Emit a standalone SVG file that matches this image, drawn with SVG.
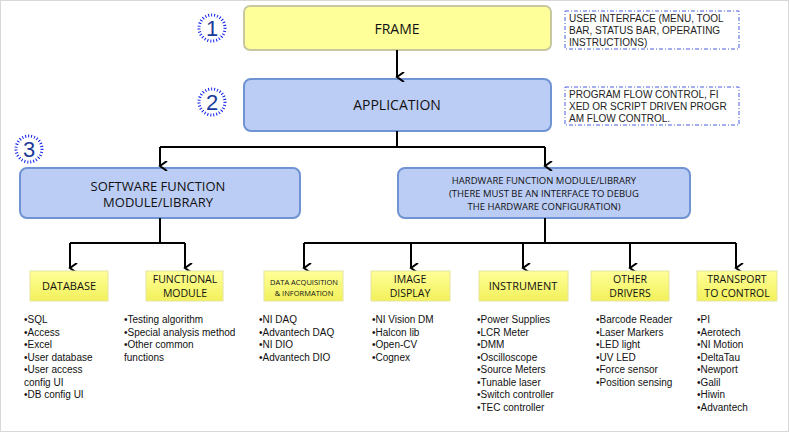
<svg xmlns="http://www.w3.org/2000/svg" width="789" height="432" viewBox="0 0 789 432">
<defs>
<marker id="ah" markerWidth="10" markerHeight="10" refX="5" refY="8" orient="auto" markerUnits="userSpaceOnUse" viewBox="0 0 10 10"><path d="M0,1 L5,8 L10,1" fill="none" stroke="#000" stroke-width="2"/></marker>
<linearGradient id="yg" x1="0" y1="0" x2="0" y2="1"><stop offset="0" stop-color="#ffff99"/><stop offset="1" stop-color="#f2f05a"/></linearGradient>
</defs>
<style>
.big{fill:#ffff99;stroke:#c8c8a0;stroke-width:2}
.blue{fill:#bccdf5;stroke:#6f93d3;stroke-width:2}
.ylw{fill:url(#yg);stroke:#e6e4a0;stroke-width:1}
.note{fill:#fff;stroke:#4a5ee0;stroke-width:1;stroke-dasharray:4,2,1,2}
.circ{fill:#fff;stroke:#1020f0;stroke-width:3;stroke-dasharray:1,2}
.t{font-family:"Open Sans","DejaVu Sans",sans-serif;fill:#111;text-anchor:middle}
.n{font-family:"Liberation Sans",Arial,sans-serif;fill:#222;font-size:10px}
.l{font-family:"Liberation Sans",Arial,sans-serif;fill:#111;font-size:10px}
.num{font-family:"Liberation Sans",Arial,sans-serif;fill:#1a3a9a;font-size:22px;text-anchor:middle}
.c{fill:none;stroke:#000;stroke-width:2}
</style>
<rect x="0.5" y="0.5" width="788" height="431" fill="#fff" stroke="#d8d8d8"/>
<g id="frame"><rect class="big" x="244" y="6" width="307" height="44" rx="6"/><text class="t" x="397" y="34" font-size="14">FRAME</text></g>
<g id="frame-note"><rect class="note" x="565" y="11" width="174" height="38"/><text class="n" x="569" y="22">USER INTERFACE (MENU, TOOL</text><text class="n" x="569" y="34">BAR, STATUS BAR, OPERATING</text><text class="n" x="569" y="46">INSTRUCTIONS)</text></g>
<g id="application"><rect class="blue" x="244" y="79" width="307" height="52" rx="7"/><text class="t" x="397" y="110" font-size="14">APPLICATION</text></g>
<g id="app-note"><rect class="note" x="565" y="87" width="174" height="38"/><text class="n" x="569" y="98">PROGRAM FLOW CONTROL, FI</text><text class="n" x="569" y="110">XED OR SCRIPT DRIVEN PROGR</text><text class="n" x="569" y="122">AM FLOW CONTROL.</text></g>
<g id="c1"><circle class="circ" cx="212" cy="28" r="13"/><text class="num" x="212" y="36">1</text></g>
<g id="c2"><circle class="circ" cx="212" cy="102" r="13"/><text class="num" x="212" y="110">2</text></g>
<g id="c3"><circle class="circ" cx="29" cy="149" r="13"/><text class="num" x="29" y="157">3</text></g>
<g id="software"><rect class="blue" x="20" y="168" width="280" height="50" rx="7"/><text class="t" x="158" y="191" font-size="13">SOFTWARE FUNCTION</text><text class="t" x="158" y="207" font-size="13">MODULE/LIBRARY</text></g>
<g id="hardware"><rect class="blue" x="398" y="168" width="292" height="50" rx="7"/><text class="t" x="544" y="184" font-size="9.5">HARDWARE FUNCTION MODULE/LIBRARY</text><text class="t" x="544" y="197" font-size="9.5">(THERE MUST BE AN INTERFACE TO DEBUG</text><text class="t" x="544" y="210" font-size="9.5">THE HARDWARE CONFIGURATION)</text></g>
<g id="connectors">
<path class="c" d="M397,50 V77" marker-end="url(#ah)"/>
<path class="c" d="M397,131 V147 H160 M397,147 H545"/>
<path class="c" d="M160,147 V166" marker-end="url(#ah)"/>
<path class="c" d="M545,147 V166" marker-end="url(#ah)"/>
<path class="c" d="M160,218 V243 H70 M160,243 H185"/>
<path class="c" d="M70,243 V268" marker-end="url(#ah)"/>
<path class="c" d="M185,243 V268" marker-end="url(#ah)"/>
<path class="c" d="M545,218 V243 M304,243 H736"/>
<path class="c" d="M304,243 V268" marker-end="url(#ah)"/>
<path class="c" d="M411,243 V268" marker-end="url(#ah)"/>
<path class="c" d="M523,243 V268" marker-end="url(#ah)"/>
<path class="c" d="M630,243 V268" marker-end="url(#ah)"/>
<path class="c" d="M736,243 V268" marker-end="url(#ah)"/>
</g>
<g id="database"><rect class="ylw" x="30" y="271" width="78" height="30"/><text class="t" x="69" y="290" font-size="11">DATABASE</text>
<text class="l" x="24" y="323">•SQL</text><text class="l" x="24" y="335.5">•Access</text><text class="l" x="24" y="348">•Excel</text><text class="l" x="24" y="360.5">•User database</text><text class="l" x="24" y="373">•User access</text><text class="l" x="24" y="385.5">config UI</text><text class="l" x="24" y="398">•DB config UI</text></g>
<g id="functional"><rect class="ylw" x="146" y="271" width="77" height="30"/><text class="t" x="185" y="283" font-size="10.5">FUNCTIONAL</text><text class="t" x="185" y="297" font-size="10.5">MODULE</text>
<text class="l" x="124" y="323">•Testing algorithm</text><text class="l" x="124" y="335.5">•Special analysis method</text><text class="l" x="124" y="348">•Other common</text><text class="l" x="124" y="360.5">functions</text></g>
<g id="daq"><rect class="ylw" x="264" y="271" width="79" height="30"/><text class="t" x="304" y="285" font-size="7.5">DATA ACQUISITION</text><text class="t" x="304" y="296" font-size="7.5">&amp; INFORMATION</text>
<text class="l" x="259" y="323">•NI DAQ</text><text class="l" x="259" y="335.5">•Advantech DAQ</text><text class="l" x="259" y="348">•NI DIO</text><text class="l" x="259" y="360.5">•Advantech DIO</text></g>
<g id="image"><rect class="ylw" x="371" y="271" width="79" height="30"/><text class="t" x="410" y="283" font-size="10.5">IMAGE</text><text class="t" x="410" y="297" font-size="10.5">DISPLAY</text>
<text class="l" x="372" y="323">•NI Vision DM</text><text class="l" x="372" y="335.5">•Halcon lib</text><text class="l" x="372" y="348">•Open-CV</text><text class="l" x="372" y="360.5">•Cognex</text></g>
<g id="instrument"><rect class="ylw" x="479" y="271" width="89" height="30"/><text class="t" x="523" y="290" font-size="11">INSTRUMENT</text>
<text class="l" x="477" y="323">•Power Supplies</text><text class="l" x="477" y="335.5">•LCR Meter</text><text class="l" x="477" y="348">•DMM</text><text class="l" x="477" y="360.5">•Oscilloscope</text><text class="l" x="477" y="373">•Source Meters</text><text class="l" x="477" y="385.5">•Tunable laser</text><text class="l" x="477" y="398">•Switch controller</text><text class="l" x="477" y="410.5">•TEC controller</text></g>
<g id="other"><rect class="ylw" x="591" y="271" width="78" height="30"/><text class="t" x="630" y="283" font-size="10.5">OTHER</text><text class="t" x="630" y="297" font-size="10.5">DRIVERS</text>
<text class="l" x="596" y="323">•Barcode Reader</text><text class="l" x="596" y="335.5">•Laser Markers</text><text class="l" x="596" y="348">•LED light</text><text class="l" x="596" y="360.5">•UV LED</text><text class="l" x="596" y="373">•Force sensor</text><text class="l" x="596" y="385.5">•Position sensing</text></g>
<g id="transport"><rect class="ylw" x="697" y="271" width="80" height="30"/><text class="t" x="737" y="283" font-size="10.5">TRANSPORT</text><text class="t" x="737" y="297" font-size="10.5">TO CONTROL</text>
<text class="l" x="697" y="323">•PI</text><text class="l" x="697" y="335.5">•Aerotech</text><text class="l" x="697" y="348">•NI Motion</text><text class="l" x="697" y="360.5">•DeltaTau</text><text class="l" x="697" y="373">•Newport</text><text class="l" x="697" y="385.5">•Galil</text><text class="l" x="697" y="398">•Hiwin</text><text class="l" x="697" y="410.5">•Advantech</text></g>
</svg>
